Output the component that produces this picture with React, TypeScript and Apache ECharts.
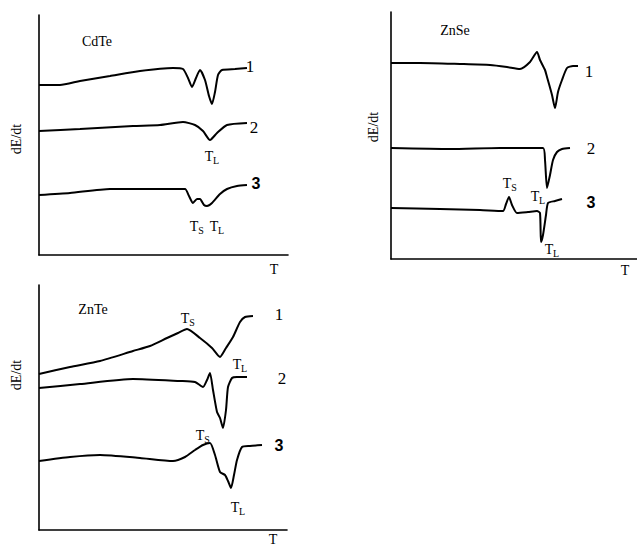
import React, { useEffect, useRef } from "react";
import * as echarts from "echarts";

// ---- CdTe (T, dE/dt in arbitrary units) ----
const cdteT1 = [0, 21, 41, 71, 101, 134, 144, 149, 153, 157, 161, 166, 170, 173, 176, 179, 183, 196, 208];
const cdteS1 = [170, 170, 174, 179, 184, 187, 186, 177, 168, 177, 185, 175, 159, 151, 163, 180, 185, 186, 187];
const cdteT2 = [0, 41, 94, 121, 144, 156, 164, 171, 178, 188, 208];
const cdteS2 = [124, 126, 129, 130, 133, 130, 124, 115, 122, 130, 132];
const cdteT3 = [0, 31, 71, 111, 146, 150, 154, 158, 161, 165, 168, 173, 181, 188, 198, 208];
const cdteS3 = [60, 62, 66, 66, 66, 59, 52, 56, 56, 50, 49, 52, 61, 66, 69, 70];

// ---- ZnSe ----
const znseT1 = [0, 29, 69, 99, 116, 129, 139, 146, 149, 154, 156, 158, 161, 164, 167, 171, 176, 182, 187];
const znseS1 = [196, 196, 195, 194, 192, 190, 197, 207, 199, 189, 182, 175, 164, 151, 167, 179, 191, 193, 193];
const znseT2 = [0, 59, 109, 152, 154, 156, 159, 162, 166, 171, 179];
const znseS2 = [111, 110, 111, 111, 99, 71, 84, 99, 107, 110, 111];
const znseT3 = [0, 49, 89, 112, 115, 118, 121, 126, 137, 146, 149, 150, 152, 155, 157, 164, 171];
const znseS3 = [51, 50, 49, 48, 55, 62, 54, 46, 47, 48, 46, 17, 24, 44, 56, 58, 60];

// ---- ZnTe ----
const znteT1 = [0, 31, 61, 94, 111, 128, 139, 148, 161, 173, 181, 187, 194, 201, 206, 214];
const znteS1 = [156, 163, 169, 179, 184, 192, 197, 201, 192, 182, 173, 182, 193, 208, 213, 214];
const znteT2 = [0, 41, 94, 141, 156, 164, 168, 171, 174, 178, 181, 184, 187, 189, 193, 198, 208];
const znteS2 = [142, 146, 151, 149, 148, 143, 150, 157, 140, 118, 112, 102, 120, 143, 152, 153, 153];
const znteT3 = [0, 31, 61, 101, 134, 146, 156, 164, 171, 176, 181, 186, 189, 192, 195, 198, 203, 211, 223];
const znteS3 = [69, 73, 75, 72, 69, 73, 80, 85, 87, 75, 58, 55, 49, 42, 55, 70, 83, 84, 85];

const panelNames = ["CdTe", "ZnSe", "ZnTe"];
const curveNames = ["1", "2", "3"];

const zip = (a: number[], b: number[]) => a.map((v, i) => [v, b[i]]);

const SERIF = "'Liberation Serif', 'DejaVu Serif', serif";

export default function App() {
  const ref = useRef<HTMLDivElement>(null);
  useEffect(() => {
    document.body.style.margin = "0";
    const chart = echarts.init(ref.current!, null, { renderer: "svg" });

    const grids = [
      { left: 39, top: 15, width: 249, height: 240 },
      { left: 391, top: 12, width: 246, height: 247 },
      { left: 39, top: 285, width: 248, height: 245 },
    ];
    const curves = [
      [zip(cdteT1, cdteS1), zip(cdteT2, cdteS2), zip(cdteT3, cdteS3)],
      [zip(znseT1, znseS1), zip(znseT2, znseS2), zip(znseT3, znseS3)],
      [zip(znteT1, znteS1), zip(znteT2, znteS2), zip(znteT3, znteS3)],
    ];

    const axisLine = { show: true, onZero: false, lineStyle: { color: "#000", width: 1.6 } };
    const xAxis = grids.map((g, i) => ({
      type: "value", gridIndex: i, min: 0, max: g.width,
      axisLine, axisTick: { show: false }, axisLabel: { show: false }, splitLine: { show: false },
    }));
    const yAxis = grids.map((g, i) => ({
      type: "value", gridIndex: i, min: 0, max: g.height,
      axisLine, axisTick: { show: false }, axisLabel: { show: false }, splitLine: { show: false },
    }));
    const series: any[] = [];
    curves.forEach((set, gi) =>
      set.forEach((d, ci) =>
        series.push({
          type: "line", name: panelNames[gi] + " " + curveNames[ci],
          xAxisIndex: gi, yAxisIndex: gi, data: d, showSymbol: false, smooth: 0.2,
          lineStyle: { color: "#000", width: 2 }, silent: true,
        })
      )
    );

    const txt = (x: number, y: number, s: string, size = 14, extra: any = {}) => ({
      type: "text", x, y,
      style: { text: s, fill: "#000", font: `${size}px ${SERIF}`, align: "center", verticalAlign: "middle", ...extra },
    });
    const rot = (x: number, y: number, s: string) => ({
      type: "text", x, y, rotation: Math.PI / 2,
      style: { text: s, fill: "#000", font: `14px ${SERIF}`, align: "center", verticalAlign: "middle" },
    });
    const sub = (x: number, y: number, s: string) => [
      txt(x, y, "T", 14),
      txt(x + 7, y + 4, s, 10),
    ];
    const num = (x: number, y: number, s: string) =>
      s === "3"
        ? txt(x, y, s, 16, { font: "bold 16px 'Liberation Sans', Arial, sans-serif" })
        : txt(x, y, s, 17);

    const graphic: any[] = [
      // CdTe
      txt(97, 41, panelNames[0]),
      rot(16, 139, "dE/dt"),
      txt(274, 269, "T"),
      num(250, 66, curveNames[0]),
      num(254, 127, curveNames[1]),
      num(256, 183, curveNames[2]),
      ...sub(209, 156, "L"),
      ...sub(194, 226, "S"),
      ...sub(214, 226, "L"),
      // ZnSe
      txt(455, 30, panelNames[1]),
      rot(373, 127, "dE/dt"),
      txt(625, 270, "T"),
      num(589, 71, curveNames[0]),
      num(591, 148, curveNames[1]),
      num(591, 202, curveNames[2]),
      ...sub(507, 183, "S"),
      ...sub(535, 196, "L"),
      ...sub(549, 249, "L"),
      // ZnTe
      txt(93, 309, panelNames[2]),
      rot(16, 375, "dE/dt"),
      txt(273, 539, "T"),
      num(279, 314, curveNames[0]),
      num(282, 378, curveNames[1]),
      num(279, 445, curveNames[2]),
      ...sub(185, 318, "S"),
      ...sub(237, 364, "L"),
      ...sub(200, 435, "S"),
      ...sub(235, 507, "L"),
    ];

    chart.setOption({
      animation: false,
      backgroundColor: "#fff",
      grid: grids.map((g) => ({ ...g, containLabel: false })),
      xAxis, yAxis, series, graphic,
    });
    return () => chart.dispose();
  }, []);
  return <div ref={ref} style={{ width: 637, height: 548 }} />;
}
